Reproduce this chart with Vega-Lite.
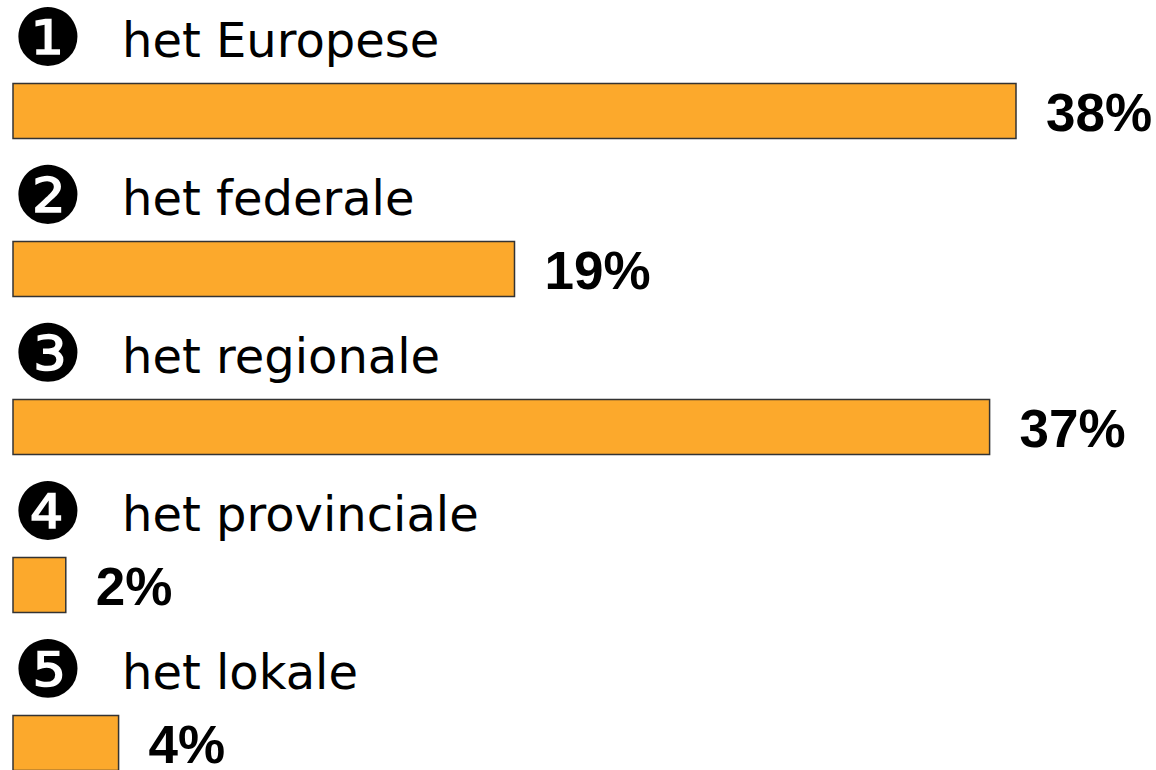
{
  "$schema": "https://vega.github.io/schema/vega-lite/v6.json",
  "width": 1156,
  "height": 770,
  "padding": 0,
  "autosize": {"type": "none"},
  "background": "white",
  "config": {"view": {"stroke": null}},
  "data": {"values": [
    {"rank": "1", "num": "❶", "level": "het Europese", "pct": 38, "label": "38%"},
    {"rank": "2", "num": "❷", "level": "het federale", "pct": 19, "label": "19%"},
    {"rank": "3", "num": "❸", "level": "het regionale", "pct": 37, "label": "37%"},
    {"rank": "4", "num": "❹", "level": "het provinciale", "pct": 2, "label": "2%"},
    {"rank": "5", "num": "❺", "level": "het lokale", "pct": 4, "label": "4%"}
  ]},
  "encoding": {
    "y": {"field": "rank", "type": "ordinal",
      "scale": {"domain": ["1", "2", "3", "4", "5"], "range": [32, 822], "paddingInner": 0, "paddingOuter": 0},
      "axis": null}
  },
  "layer": [
    {
      "mark": {"type": "bar", "height": 55, "color": "#FCA92C", "stroke": "#333333", "strokeWidth": 1.5},
      "encoding": {
        "x": {"field": "pct", "type": "quantitative", "scale": {"domain": [0, 38], "range": [13, 1016], "nice": false, "zero": true}, "axis": null}
      }
    },
    {
      "mark": {"type": "text", "align": "left", "baseline": "alphabetic", "dx": 30, "dy": 20, "font": "Liberation Sans", "fontWeight": "bold", "fontSize": 53, "color": "black"},
      "encoding": {
        "x": {"field": "pct", "type": "quantitative"},
        "text": {"field": "label"}
      }
    },
    {
      "mark": {"type": "text", "align": "left", "baseline": "alphabetic", "dx": 109, "dy": -54, "font": "DejaVu Sans", "fontSize": 48, "color": "black"},
      "encoding": {
        "x": {"datum": 0, "type": "quantitative"},
        "text": {"field": "level"}
      }
    },
    {
      "mark": {"type": "text", "align": "center", "baseline": "middle", "dx": 35, "dy": -70, "font": "DejaVu Sans", "fontSize": 79, "color": "black"},
      "encoding": {
        "x": {"datum": 0, "type": "quantitative"},
        "text": {"field": "num"}
      }
    }
  ]
}
